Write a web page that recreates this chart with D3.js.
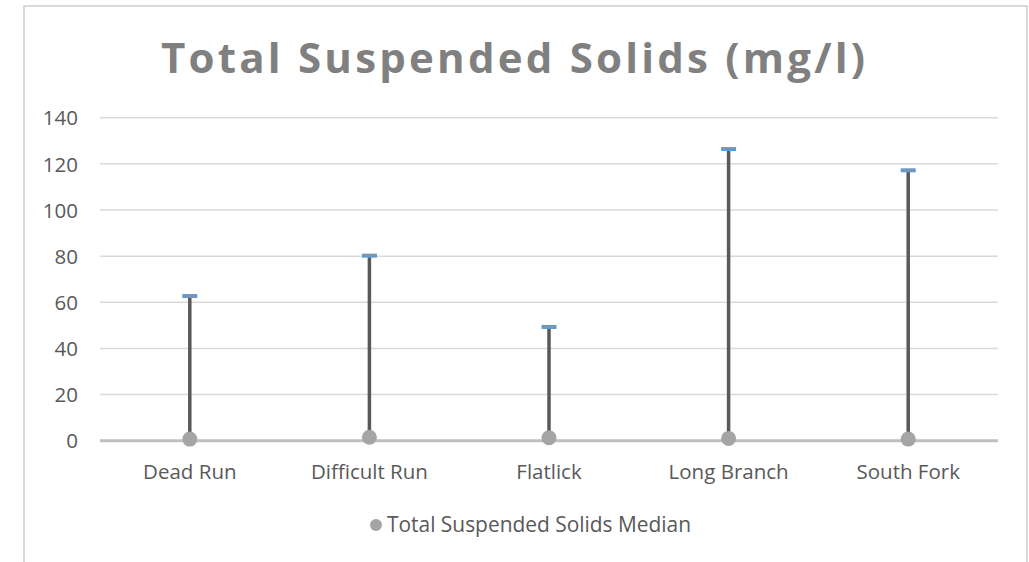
<!DOCTYPE html>
<html>
<head>
<meta charset="utf-8">
<script src="https://cdn.jsdelivr.net/npm/d3@7"></script>
<style>
  html, body { margin: 0; padding: 0; background: #fff; }
  svg { display: block; }
  text { font-family: "Open Sans", "Noto Sans", sans-serif; }
</style>
</head>
<body>
<svg id="chart" width="1029" height="562"></svg>
<script>
const categories = ["Dead Run", "Difficult Run", "Flatlick", "Long Branch", "South Fork"];
const maxValues = [62.7, 80.2, 49.3, 126.4, 117.2];
const medianValues = [0.7, 1.5, 1.3, 1.0, 0.7];
const yTicks = [0, 20, 40, 60, 80, 100, 120, 140];
const titleText = "Total Suspended Solids (mg/l)";
const legendText = "Total Suspended Solids Median";

const svg = d3.select("#chart");

// chart border (top, left, right)
svg.append("path")
  .attr("d", "M24,580 L24,6 L1027,6 L1027,580")
  .attr("fill", "none").attr("stroke", "#D9D9D9").attr("stroke-width", 2);

const x = d3.scaleBand().domain(categories).range([100, 998]);
const y = d3.scaleLinear().domain([0, 140]).range([440.7, 117.7]);

// title
svg.append("text")
  .attr("x", 513).attr("y", 73)
  .attr("text-anchor", "middle")
  .attr("font-size", 42).attr("font-weight", "bold")
  .attr("fill", "#808080")
  .attr("textLength", 704).attr("lengthAdjust", "spacing")
  .text(titleText);

// gridlines
svg.append("g").selectAll("line")
  .data(yTicks.filter(d => d !== 0))
  .join("line")
  .attr("x1", 100).attr("x2", 998)
  .attr("y1", d => y(d)).attr("y2", d => y(d))
  .attr("stroke", "#D9D9D9").attr("stroke-width", 1.5);

// y axis labels
const yAxis = d3.axisLeft(y).tickValues(yTicks).tickSize(0).tickPadding(0);
const gy = svg.append("g").attr("transform", "translate(78,0)").call(yAxis);
gy.select(".domain").remove();
gy.selectAll("text")
  .attr("font-family", "'Open Sans', sans-serif")
  .attr("font-size", 20.5).attr("fill", "#595959").attr("dy", "0.35em");

// baseline
svg.append("line")
  .attr("x1", 100).attr("x2", 998)
  .attr("y1", y(0)).attr("y2", y(0))
  .attr("stroke", "#BFBFBF").attr("stroke-width", 3);

// x axis labels
const xAxis = d3.axisBottom(x).tickSize(0).tickPadding(0);
const gx = svg.append("g").attr("transform", "translate(0,472)").call(xAxis);
gx.select(".domain").remove();
gx.selectAll("text")
  .attr("font-family", "'Open Sans', sans-serif")
  .attr("font-size", 20.5).attr("fill", "#595959").attr("dy", "0.35em");

const data = categories.map((c, i) => ({ c, max: maxValues[i], med: medianValues[i] }));
const cx = d => x(d.c) + x.bandwidth() / 2;

// high-low lines
svg.append("g").selectAll("line")
  .data(data).join("line")
  .attr("x1", cx).attr("x2", cx)
  .attr("y1", d => y(d.med)).attr("y2", d => y(d.max))
  .attr("stroke", "#595959").attr("stroke-width", 3.5);

// caps
const caps = svg.append("g");
caps.selectAll("rect")
  .data(data).join("rect")
  .attr("x", d => cx(d) - 7.5).attr("y", d => y(d.max) - 2)
  .attr("width", 15).attr("height", 4)
  .attr("fill", "#5B9BD5");
caps.selectAll("line")
  .data(data).join("line")
  .attr("x1", d => cx(d) - 6).attr("x2", d => cx(d) + 6)
  .attr("y1", d => y(d.max)).attr("y2", d => y(d.max))
  .attr("stroke", "#C0875F").attr("stroke-width", 0.8);

// median points
svg.append("g").selectAll("circle")
  .data(data).join("circle")
  .attr("cx", cx).attr("cy", d => y(d.med))
  .attr("r", 7.5)
  .attr("fill", "#A5A5A5");

// legend
svg.append("circle").attr("cx", 376).attr("cy", 525).attr("r", 6).attr("fill", "#A5A5A5");
svg.append("text")
  .attr("x", 387).attr("y", 525).attr("dy", "0.35em")
  .attr("font-size", 21).attr("fill", "#595959")
  .attr("textLength", 304).attr("lengthAdjust", "spacingAndGlyphs")
  .text(legendText);
</script>
</body>
</html>
